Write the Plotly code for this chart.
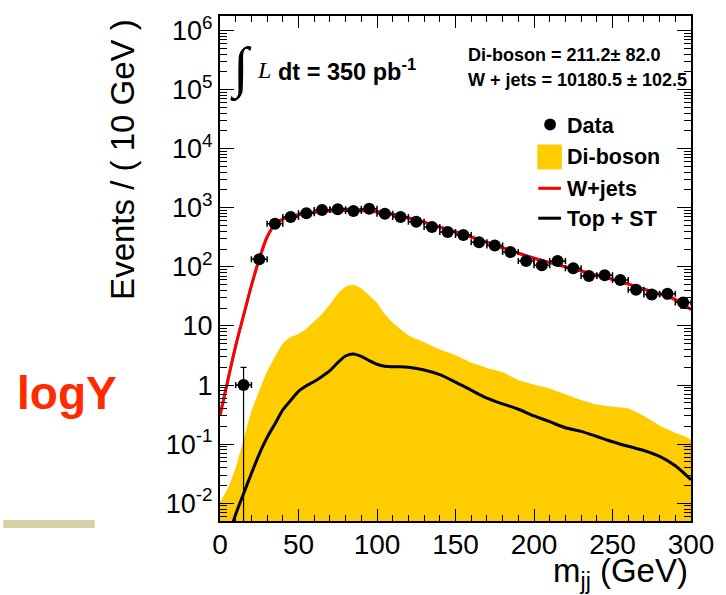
import numpy as np
import plotly.graph_objects as go

# ---------------- data ----------------
data_x = [15, 25, 35, 45, 55, 65, 75, 85, 95, 105, 115, 125, 135, 145, 155,
          165, 175, 185, 195, 205, 215, 225, 235, 245, 255, 265, 275, 285, 295]
data_y = [1, 135, 538, 696, 806, 916, 942, 880, 964, 794, 698, 582, 473, 388, 347,
          262, 230, 179, 126, 107, 126, 95, 70, 72, 60, 41, 34, 35, 25]

wjets_x = [0, 5, 10, 15, 20, 25, 30, 35, 40, 45, 50, 60, 70, 80, 90, 100, 110, 120,
           130, 140, 150, 160, 170, 180, 190, 200, 210, 220, 230, 240, 250, 260,
           270, 280, 290, 300]
wjets_y = [0.3, 1.2, 4.6, 15, 48, 135, 320, 520, 640, 700, 760, 830, 880, 900, 890,
           850, 770, 670, 570, 470, 390, 320, 260, 210, 170, 140, 118, 100, 85, 72,
           61, 51, 42, 35, 28, 19]

dib_x = [0, 5, 10, 15, 20, 25, 30, 35, 40, 45, 50, 55, 60, 65, 70, 75, 80, 85, 90,
         95, 100, 105, 110, 120, 130, 140, 150, 160, 170, 180, 190, 200, 210, 220,
         230, 240, 250, 260, 270, 280, 290, 300]
dib_y = [0.0105, 0.018, 0.04, 0.12, 0.36, 0.8, 1.7, 3.0, 5.0, 6.5, 7.3, 9.0, 12, 16,
         23, 35, 46, 50, 43, 33, 24.5, 16, 11.5, 7.0, 5.3, 4.0, 3.2, 2.4, 1.95, 1.65,
         1.22, 1.02, 0.87, 0.70, 0.56, 0.47, 0.43, 0.40, 0.30, 0.207, 0.155, 0.116]

top_x = [5, 10, 15, 20, 25, 30, 35, 40, 45, 50, 55, 60, 65, 70, 75, 80, 85, 90, 95,
         100, 105, 110, 115, 120, 130, 140, 150, 160, 170, 180, 190, 200, 210, 220,
         230, 240, 250, 260, 270, 280, 290, 300]
top_y = [0.0025, 0.0065, 0.0145, 0.032, 0.068, 0.13, 0.22, 0.38, 0.55, 0.78, 0.97,
         1.15, 1.4, 1.75, 2.4, 3.1, 3.35, 3.05, 2.6, 2.25, 2.08, 2.05, 2.05, 2.0, 1.8,
         1.5, 1.12, 0.82, 0.6, 0.48, 0.39, 0.30, 0.24, 0.19, 0.165, 0.135, 0.11,
         0.092, 0.078, 0.062, 0.043, 0.025]

y_tickvals = [1e-2, 1e-1, 1, 10, 1e2, 1e3, 1e4, 1e5, 1e6]
y_ticktext = ["10<sup>-2</sup>", "10<sup>-1</sup>", "1", "10", "10<sup>2</sup>",
              "10<sup>3</sup>", "10<sup>4</sup>", "10<sup>5</sup>", "10<sup>6</sup>"]
x_tickvals = [0, 50, 100, 150, 200, 250, 300]

# ---------------- layout geometry ----------------
W, H = 726, 595
L, R, T, B = 220, 28, 14, 74
PW, PH = W - L - R, H - T - B


def px(xp):
    return (xp - L) / PW


def py(yp):
    return (H - B - yp) / PH


FONT = "Liberation Sans"
YELLOW = "#FFCC00"

fig = go.Figure()

# Di-boson filled area
fig.add_trace(go.Scatter(
    x=dib_x + [dib_x[-1], dib_x[0]], y=dib_y + [1e-4, 1e-4],
    mode="lines", line=dict(color=YELLOW, width=0, shape="spline", smoothing=0.6),
    fill="toself", fillcolor=YELLOW, hoverinfo="skip", showlegend=False))

# Top + ST
fig.add_trace(go.Scatter(
    x=top_x, y=top_y, mode="lines",
    line=dict(color="black", width=3, shape="spline", smoothing=0.8),
    showlegend=False))

# total (thin blue under W+jets)
dib_map = dict(zip(dib_x, dib_y))
top_map = dict(zip(top_x, top_y))
tot_y = [w + dib_map.get(x, 0) + top_map.get(x, 0) for x, w in zip(wjets_x, wjets_y)]
fig.add_trace(go.Scatter(
    x=wjets_x, y=tot_y, mode="lines",
    line=dict(color="#2020FF", width=2.5, shape="spline", smoothing=0.8),
    showlegend=False))

# W+jets
fig.add_trace(go.Scatter(
    x=wjets_x, y=wjets_y, mode="lines",
    line=dict(color="#FF0000", width=3, shape="spline", smoothing=0.8),
    showlegend=False))

# Data
dy = np.array(data_y, dtype=float)
err_up = np.sqrt(dy)
err_dn = np.minimum(np.sqrt(dy), dy * 0.9999)
fig.add_trace(go.Scatter(
    x=data_x, y=data_y, mode="markers",
    marker=dict(color="black", size=12, symbol="circle"),
    error_x=dict(type="constant", value=5, color="black", thickness=1.5, width=3),
    error_y=dict(type="data", array=err_up, arrayminus=err_dn, symmetric=False,
                 color="black", thickness=1.2, width=3),
    cliponaxis=True, showlegend=False))

axis_common = dict(showline=True, linecolor="black", linewidth=2, mirror="allticks",
                   ticks="inside", tickcolor="black", showgrid=False, zeroline=False)

fig.update_xaxes(range=[0, 300], tickvals=x_tickvals, ticklen=12, tickwidth=1.2,
                 tickfont=dict(family=FONT, size=28, color="black"),
                 ticklabelstandoff=-3,
                 minor=dict(dtick=10, ticks="inside", ticklen=6, tickwidth=1,
                            tickcolor="black"),
                 **axis_common)
fig.update_yaxes(type="log", range=[-2.30, 6.245], tickvals=y_tickvals,
                 ticktext=y_ticktext, ticklen=14, tickwidth=1.2,
                 tickfont=dict(family=FONT, size=27, color="black"),
                 minor=dict(dtick="D1", ticks="inside", ticklen=7, tickwidth=1,
                            tickcolor="black"),
                 **axis_common)

ann = []


def text(s, x, y, size, xanchor="left", color="black", family=FONT, angle=0):
    ann.append(dict(text=s, x=px(x), y=py(y), xref="paper", yref="paper",
                    xanchor=xanchor, yanchor="middle", showarrow=False,
                    textangle=angle,
                    font=dict(family=family, size=size, color=color)))


text("<b>logY</b>", 12, 392, 46, color="#FF2A00")
text("Events / ( 10 GeV )", 121, 158, 33, xanchor="center", angle=-90)
text("m<sub>jj</sub> (GeV)", 697, 573, 33, xanchor="right")
text("∫", 241, 67, 56, xanchor="center", family="Liberation Serif")
text("<i>L</i>", 256, 68, 24, family="Liberation Serif")
text("<b>dt = 350 pb<sup>-1</sup></b>", 277, 68, 23.5)
text("<b>Di-boson = 211.2± 82.0</b>", 470, 53.5, 18)
text("<b>W + jets = 10180.5 ± 102.5</b>", 470, 78.5, 18)
text("<b>Data</b>", 570, 124, 21.5)
text("<b>Di-boson</b>", 570, 156, 21.5)
text("<b>W+jets</b>", 570, 188, 21.5)
text("<b>Top + ST</b>", 570, 218, 21.5)

shapes = [
    dict(type="rect", xref="paper", yref="paper", x0=px(0), x1=px(93),
         y0=py(520), y1=py(528), fillcolor="#D6D2A6", line=dict(width=0)),
    dict(type="circle", xref="paper", yref="paper", x0=px(549), x1=px(561),
         y0=py(117), y1=py(129), fillcolor="black", line=dict(width=0)),
    dict(type="rect", xref="paper", yref="paper", x0=px(542), x1=px(567),
         y0=py(143), y1=py(168), fillcolor=YELLOW, line=dict(width=0)),
    dict(type="line", xref="paper", yref="paper", x0=px(543), x1=px(566),
         y0=py(187), y1=py(187), line=dict(color="#FF0000", width=3)),
    dict(type="line", xref="paper", yref="paper", x0=px(543), x1=px(566),
         y0=py(217), y1=py(217), line=dict(color="black", width=3)),
]

fig.update_layout(width=W, height=H, margin=dict(l=L, r=R, t=T, b=B),
                  paper_bgcolor="white", plot_bgcolor="white",
                  annotations=ann, shapes=shapes, showlegend=False,
                  font=dict(family=FONT, color="black"))

fig.write_html("out.html")
